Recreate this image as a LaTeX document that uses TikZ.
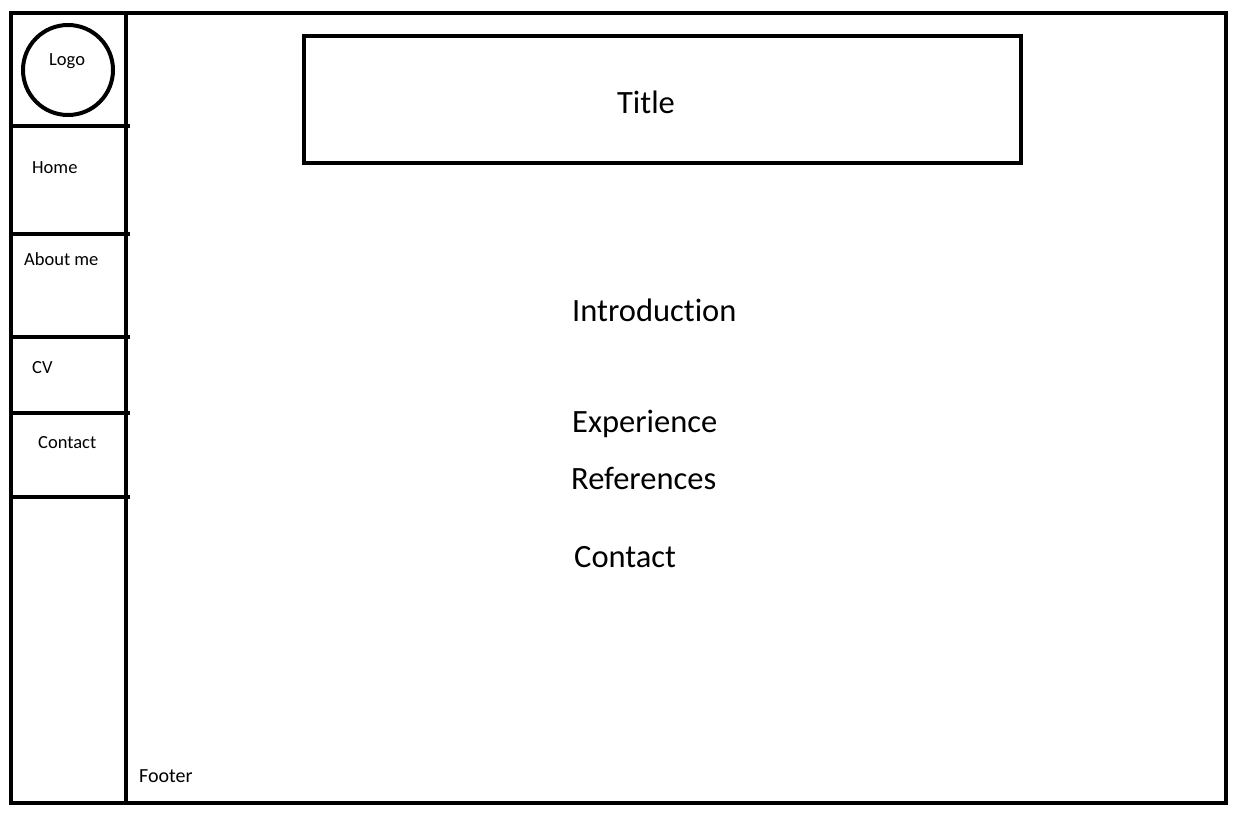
\documentclass[tikz,border=0pt]{standalone}
\usepackage{fontspec}
\setmainfont{Carlito}[Ligatures={NoCommon}]
\begin{document}
\begin{tikzpicture}[x=1pt,y=-1pt,
  frame/.style={draw=black,line width=4pt},
  navlabel/.style={anchor=base west,inner sep=0pt,font=\fontsize{18.5}{22}\selectfont},
  bodylabel/.style={anchor=base west,inner sep=0pt,font=\fontsize{32.5}{38}\selectfont}]
  \useasboundingbox (0,0) rectangle (1237,816);
  % page outline and sidebar divider
  \draw[frame] (11,13) rectangle (1226,803);
  \draw[frame] (126,13) -- (126,803);
  % sidebar separators
  \foreach \yy in {126,234,337,413,497}
    \draw[frame] (11,\yy) -- (130,\yy);
  % logo
  \draw[frame] (68,70) circle (45);
  \node[navlabel] (logo) at (49,66) {Logo};
  % navigation entries
  \node[navlabel] (home) at (32,173) {Home};
  \node[navlabel] (about) at (24,265) {About me};
  \node[navlabel] (cv) at (32,373) {CV};
  \node[navlabel] (navcontact) at (38,448) {Contact};
  % title box
  \draw[frame] (304,36) rectangle (1021,163);
  \node[bodylabel,anchor=base] (title) at (646,113) {Title};
  % page sections
  \node[bodylabel] (intro) at (572,321) {Introduction};
  \node[bodylabel] (exp) at (572,432) {Experience};
  \node[bodylabel] (refs) at (571,489) {References};
  \node[bodylabel] (contact) at (574,567) {Contact};
  % footer
  \node[navlabel,font=\fontsize{20}{24}\selectfont] (footer) at (139,782) {Footer};
\end{tikzpicture}
\end{document}
